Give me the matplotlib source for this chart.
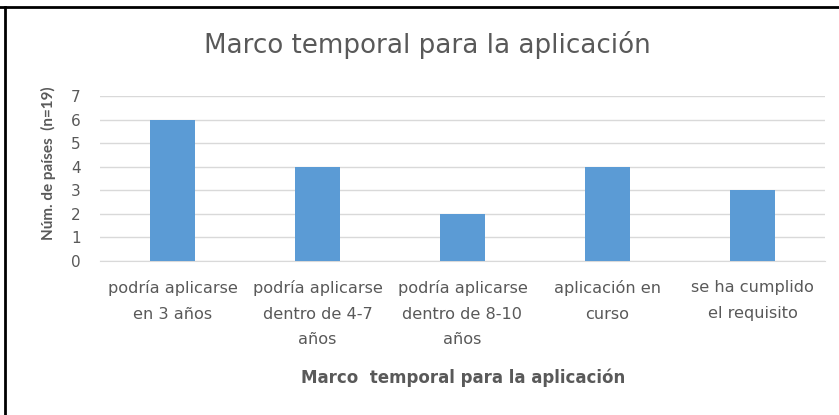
import matplotlib
matplotlib.use("Agg")
import matplotlib.pyplot as plt
from matplotlib.lines import Line2D

categories = ["podría aplicarse\nen 3 años", "podría aplicarse\ndentro de 4-7\naños",
              "podría aplicarse\ndentro de 8-10\naños", "aplicación en\ncurso",
              "se ha cumplido\nel requisito"]
values = [6, 4, 2, 4, 3]
yticks = [0, 1, 2, 3, 4, 5, 6, 7]

plt.rcParams['font.family'] = ['DejaVu Sans']
W, H = 839, 415
fig = plt.figure(figsize=(W / 100, H / 100), dpi=100)
ax = fig.add_axes([100 / W, 1 - 261 / H, 725 / W, 165 / H])

x = list(range(len(categories)))
ax.bar(x, values, width=0.31, color="#5b9bd5", zorder=3)
ax.set_xlim(-0.5, len(categories) - 0.5)
ax.set_ylim(0, 7)
ax.set_yticks(yticks)
ax.yaxis.grid(True, color="#d9d9d9", linewidth=1, zorder=0)
ax.set_xticks(x)
ax.set_xticklabels(categories, fontsize=11.6, color="#595959", linespacing=1.85)
ax.tick_params(axis='x', length=0, colors="#595959", labelsize=11.6, pad=14)
ax.tick_params(axis='y', length=0, colors="#595959", labelsize=11, pad=14)
for s in ["top", "right", "left"]:
    ax.spines[s].set_visible(False)
ax.spines["bottom"].set_color("#d9d9d9")

fig.text(427 / W, 1 - 45 / H, "Marco temporal para la aplicación", ha="center", va="center",
         fontsize=18.8, color="#595959")
fig.text(463 / W, 1 - 378 / H, "Marco  temporal para la aplicación", ha="center", va="center",
         fontsize=12, fontweight="bold", color="#595959")
fig.text(48 / W, 1 - 163 / H, "Núm. de países  (n=19)", ha="center", va="center",
         rotation=90, fontsize=11, fontweight="bold", color="#595959",
         family=['Lato', 'DejaVu Sans'])

# frame lines (top and left)
fig.add_artist(Line2D([0, 1], [1 - 7 / H, 1 - 7 / H], color="black", linewidth=2,
                      transform=fig.transFigure))
fig.add_artist(Line2D([5 / W, 5 / W], [0, 1 - 7 / H], color="black", linewidth=2,
                      transform=fig.transFigure))

fig.savefig("out.png", dpi=100, facecolor="white")
